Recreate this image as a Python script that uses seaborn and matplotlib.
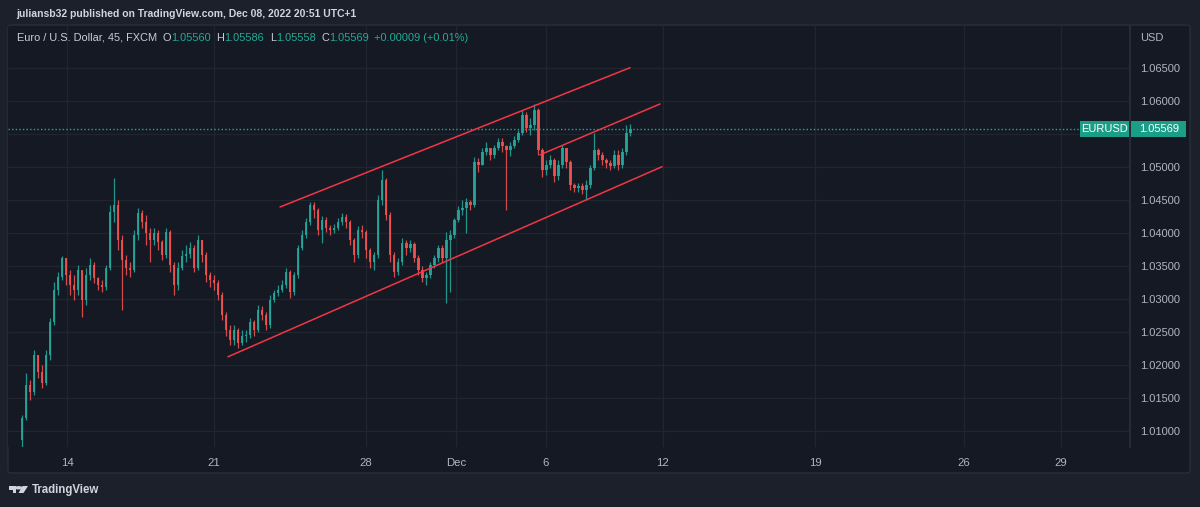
import numpy as np
import matplotlib
matplotlib.use("Agg")
import matplotlib.pyplot as plt
import seaborn as sns
from matplotlib.patches import Rectangle, Polygon, Circle, FancyBboxPatch
from matplotlib.transforms import blended_transform_factory

# ---------------- data (EUR/USD, FXCM) ----------------
first_open = 1.0086
closes = [
    1.0119, 1.0169, 1.0159, 1.0215, 1.0189, 1.0172, 1.0215, 1.0265, 1.0313, 1.0333,
    1.0362, 1.0336, 1.0321, 1.0313, 1.0344, 1.0298, 1.0336, 1.0351, 1.0331, 1.0321,
    1.0318, 1.0347, 1.0431, 1.0442, 1.0389, 1.0359, 1.0347, 1.0344, 1.0397, 1.0430,
    1.0416, 1.0400, 1.0389, 1.0400, 1.0386, 1.0366, 1.0401, 1.0351, 1.0321, 1.0347,
    1.0365, 1.0368, 1.0377, 1.0347, 1.0389, 1.0366, 1.0336, 1.0328, 1.0324, 1.0306,
    1.0275, 1.0253, 1.0237, 1.0253, 1.0233, 1.0243, 1.0245, 1.0265, 1.0253, 1.0283,
    1.0275, 1.0260, 1.0298, 1.0309, 1.0313, 1.0321, 1.0340, 1.0310, 1.0336, 1.0377,
    1.0397, 1.0416, 1.0442, 1.0434, 1.0404, 1.0419, 1.0407, 1.0404, 1.0407, 1.0416,
    1.0424, 1.0416, 1.0389, 1.0366, 1.0404, 1.0401, 1.0374, 1.0356, 1.0366, 1.0450,
    1.0480, 1.0427, 1.0366, 1.0340, 1.0356, 1.0384, 1.0377, 1.0383, 1.0362, 1.0344,
    1.0331, 1.0336, 1.0351, 1.0362, 1.0377, 1.0362, 1.0389, 1.0397, 1.0419, 1.0434,
    1.0437, 1.0447, 1.0442, 1.0507, 1.0503, 1.0522, 1.0528, 1.0518, 1.0528, 1.0537,
    1.0531, 1.0525, 1.0531, 1.0540, 1.0551, 1.0578, 1.0559, 1.0563, 1.0586, 1.0525,
    1.0495, 1.0503, 1.0510, 1.0486, 1.0503, 1.0528, 1.0507, 1.0472, 1.0468, 1.0471,
    1.0465, 1.0472, 1.0498, 1.0525, 1.0518, 1.0510, 1.0506, 1.0501, 1.0518, 1.0503,
    1.0522, 1.0551, 1.05569,
]
highs = [
    1.0124, 1.0187, 1.0177, 1.0222, 1.0210, 1.0200, 1.0222, 1.0271, 1.0325, 1.0340,
    1.0365, 1.0359, 1.0344, 1.0336, 1.0351, 1.0344, 1.0347, 1.0362, 1.0356, 1.0333,
    1.0328, 1.0351, 1.0442, 1.0483, 1.0450, 1.0397, 1.0366, 1.0356, 1.0404, 1.0437,
    1.0434, 1.0427, 1.0407, 1.0407, 1.0404, 1.0389, 1.0407, 1.0404, 1.0356, 1.0356,
    1.0374, 1.0381, 1.0386, 1.0381, 1.0397, 1.0389, 1.0371, 1.0340, 1.0336, 1.0328,
    1.0310, 1.0280, 1.0260, 1.0260, 1.0256, 1.0253, 1.0253, 1.0271, 1.0268, 1.0290,
    1.0289, 1.0280, 1.0306, 1.0313, 1.0321, 1.0328, 1.0347, 1.0344, 1.0340, 1.0381,
    1.0404, 1.0422, 1.0447, 1.0447, 1.0437, 1.0425, 1.0424, 1.0412, 1.0413, 1.0422,
    1.0430, 1.0428, 1.0419, 1.0392, 1.0410, 1.0412, 1.0404, 1.0377, 1.0371, 1.0457,
    1.0495, 1.0483, 1.0431, 1.0371, 1.0362, 1.0392, 1.0389, 1.0389, 1.0386, 1.0366,
    1.0350, 1.0340, 1.0356, 1.0366, 1.0381, 1.0381, 1.0401, 1.0404, 1.0422, 1.0440,
    1.0450, 1.0453, 1.0450, 1.0515, 1.0513, 1.0528, 1.0537, 1.0528, 1.0533, 1.0544,
    1.0544, 1.0533, 1.0537, 1.0547, 1.0556, 1.0586, 1.0583, 1.0574, 1.0595, 1.0589,
    1.0528, 1.0510, 1.0518, 1.0513, 1.0510, 1.0533, 1.0525, 1.0510, 1.0475, 1.0475,
    1.0475, 1.0480, 1.0503, 1.0551, 1.0528, 1.0522, 1.0513, 1.0510, 1.0525, 1.0525,
    1.0528, 1.0563, 1.0565,
]
lows = [
    1.0075, 1.0116, 1.0147, 1.0154, 1.0180, 1.0165, 1.0169, 1.0207, 1.0260, 1.0306,
    1.0328, 1.0321, 1.0306, 1.0298, 1.0306, 1.0272, 1.0290, 1.0328, 1.0324, 1.0313,
    1.0310, 1.0313, 1.0344, 1.0416, 1.0374, 1.0283, 1.0336, 1.0333, 1.0340, 1.0389,
    1.0407, 1.0381, 1.0356, 1.0381, 1.0374, 1.0359, 1.0362, 1.0340, 1.0306, 1.0313,
    1.0344, 1.0356, 1.0362, 1.0340, 1.0344, 1.0356, 1.0325, 1.0318, 1.0313, 1.0298,
    1.0268, 1.0243, 1.0230, 1.0230, 1.0225, 1.0230, 1.0234, 1.0240, 1.0243, 1.0250,
    1.0268, 1.0253, 1.0256, 1.0295, 1.0304, 1.0310, 1.0316, 1.0301, 1.0306, 1.0331,
    1.0374, 1.0392, 1.0412, 1.0422, 1.0397, 1.0384, 1.0401, 1.0397, 1.0400, 1.0404,
    1.0412, 1.0407, 1.0381, 1.0356, 1.0362, 1.0392, 1.0362, 1.0347, 1.0344, 1.0362,
    1.0442, 1.0419, 1.0356, 1.0333, 1.0336, 1.0351, 1.0366, 1.0371, 1.0356, 1.0336,
    1.0325, 1.0321, 1.0331, 1.0347, 1.0356, 1.0356, 1.0293, 1.0310, 1.0392, 1.0416,
    1.0427, 1.0400, 1.0434, 1.0439, 1.0492, 1.0503, 1.0518, 1.0510, 1.0513, 1.0525,
    1.0522, 1.0434, 1.0516, 1.0528, 1.0537, 1.0548, 1.0553, 1.0548, 1.0556, 1.0518,
    1.0484, 1.0487, 1.0498, 1.0477, 1.0480, 1.0498, 1.0498, 1.0465, 1.0462, 1.0462,
    1.0459, 1.0450, 1.0468, 1.0495, 1.0510, 1.0503, 1.0498, 1.0495, 1.0498, 1.0495,
    1.0498, 1.0518, 1.0547,
]
# time in trading days counted from Mon Nov 14 00:00
bar_start_day = -1.505
bar_step_day = 0.1338

# hand-drawn channel lines (trading day, price)
upper_x = [7.124, 18.83]
upper_y = [1.0439, 1.0650]
middle_x = [15.82, 19.83]
middle_y = [1.0518, 1.0595]
lower_x = [5.385, 19.90]
lower_y = [1.0212, 1.0500]

time_tick_days = [0, 4.92, 10.0, 13.01, 16.02, 19.93, 25.02, 30.0, 33.24]
time_tick_labels = ["14", "21", "28", "Dec", "6", "12", "19", "26", "29"]
price_ticks = [1.010, 1.015, 1.020, 1.025, 1.030, 1.035, 1.040, 1.045,
               1.050, 1.055, 1.060, 1.065]
price_tick_labels = ["1.01000", "1.01500", "1.02000", "1.02500", "1.03000", "1.03500",
                     "1.04000", "1.04500", "1.05000", "", "1.06000", "1.06500"]
last_price = 1.05569
legend_pieces = [("Euro / U.S. Dollar, 45, FXCM", "txt", 0),
                 ("O", "txt", 4), ("1.05560", "val", 0),
                 ("H", "txt", 4), ("1.05586", "val", 0),
                 ("L", "txt", 4), ("1.05558", "val", 0),
                 ("C", "txt", 4), ("1.05569", "val", 0),
                 ("+0.00009 (+0.01%)", "val", 4)]

# ---------------- style ----------------
BG_OUT = "#1c202b"
BG_PANE = "#151924"
GRID = "#21252f"
BORDER = "#2a2e39"
TXT = "#d1d4dc"
AX_TXT = "#b2b5be"
UP = "#26a69a"
DOWN = "#ef5350"
CHAN = "#f23645"
BOX = "#1a9e88"

sns.set_theme(style="dark", rc={"axes.facecolor": BG_PANE,
                                "figure.facecolor": BG_OUT,
                                "axes.edgecolor": BORDER})
plt.rcParams["font.family"] = ["Liberation Sans", "DejaVu Sans"]

W, H = 1200, 507
fig = plt.figure(figsize=(W / 100, H / 100), dpi=100)


def fx(px):
    return px / W


def fy(py):
    return 1 - py / H


# chart pane (behind the axes)
pane = FancyBboxPatch((fx(8), fy(473)), fx(1190 - 8), (473 - 25) / H,
                      boxstyle="round,pad=0,rounding_size=0.004",
                      transform=fig.transFigure, facecolor=BG_PANE,
                      edgecolor=BORDER, lw=1, zorder=-10)
fig.add_artist(pane)

ax = fig.add_axes([fx(8), fy(447), fx(1130 - 8), (447 - 26) / H])
ax.set_zorder(1)
ax.set_facecolor(BG_PANE)

# candles
c = np.array(closes, dtype=float)
n = len(c)
o = np.r_[first_open, c[:-1]]
hi = np.maximum.reduce([np.array(highs[:n], float), o, c])
lo = np.minimum.reduce([np.array(lows[:n], float), o, c])
x = bar_start_day + bar_step_day * np.arange(n)
up = c >= o
cols = np.where(up, UP, DOWN)
ax.vlines(x, lo, hi, colors=cols, lw=0.9, alpha=0.88, zorder=3)
body = np.maximum(np.abs(c - o), 0.00008)
ax.bar(x, body, bottom=np.minimum(o, c), width=bar_step_day * 0.72,
       color=cols, lw=0, alpha=0.9, zorder=4)

# channel lines
for lx, ly in [(upper_x, upper_y), (middle_x, middle_y), (lower_x, lower_y)]:
    sns.lineplot(x=lx, y=ly, ax=ax, color=CHAN, lw=1.1, zorder=5)

# last price line
ax.axhline(last_price, color=UP, ls=(0, (1, 1.6)), lw=1.0, zorder=2)

ax.set_xlim((8 - 67) / 29.9, (1130 - 67) / 29.9)
ax.set_ylim(1.00753, 1.07132)

ax.set_xticks(time_tick_days)
ax.set_xticklabels(time_tick_labels)
ax.yaxis.tick_right()
ax.set_yticks(price_ticks)
ax.set_yticklabels(price_tick_labels)
ax.tick_params(axis="y", length=0, pad=7, labelcolor=AX_TXT, labelsize=8)
ax.tick_params(axis="x", length=0, pad=8, labelcolor=AX_TXT, labelsize=8.2)
ax.grid(True, color=GRID, lw=0.9)
ax.set_axisbelow(True)
for s in ["top", "left", "bottom"]:
    ax.spines[s].set_visible(False)
ax.spines["right"].set_color(BORDER)
ax.set_xlabel("")
ax.set_ylabel("")

# price labels on the scale
bt = blended_transform_factory(fig.transFigure, ax.transData)
hh = 16 / 6600
ax.add_patch(Rectangle((fx(1080), last_price - hh / 2), fx(49), hh, transform=bt,
                       facecolor=BOX, edgecolor="none", clip_on=False, zorder=6))
ax.add_patch(Rectangle((fx(1131), last_price - hh / 2), fx(55), hh, transform=bt,
                       facecolor=BOX, edgecolor="none", clip_on=False, zorder=6))
ax.text(fx(1104.5), last_price, "EURUSD", transform=bt, ha="center", va="center",
        color="white", fontsize=8, zorder=7, clip_on=False)
ax.text(fx(1159), last_price, "1.05569", transform=bt, ha="center", va="center",
        color="white", fontsize=8, zorder=7, clip_on=False)

# header texts
fig.text(fx(16), fy(14), "juliansb32 published on TradingView.com, Dec 08, 2022 20:51 UTC+1",
         color=TXT, fontsize=7.5, fontweight="bold", va="center", ha="left")
fig.text(fx(1140), fy(38), "USD", color=AX_TXT, fontsize=8, va="center", ha="left")

prev = None
for txt, kind, gap in legend_pieces:
    col = "#c9ccd4" if kind == "txt" else "#22ab94"
    if prev is None:
        prev = ax.text(fx(17), fy(38), txt, color=col, fontsize=7.9,
                       va="center", ha="left", transform=fig.transFigure,
                       clip_on=False)
    else:
        prev = ax.annotate(txt, xy=(1, 0), xycoords=prev, xytext=(gap, 0),
                           textcoords="offset points", ha="left", va="bottom",
                           color=col, fontsize=7.9, annotation_clip=False)

# TradingView footer logo + text
logo_col = "#d1d4dc"
for art in [
    Rectangle((fx(9), fy(489.5)), fx(7), 3.5 / H),
    Rectangle((fx(12.5), fy(493)), fx(3.5), 7 / H),
    Circle((fx(18.6), fy(487.8)), 1.7 / H),
    Polygon([(fx(22.5), fy(486)), (fx(28), fy(486)),
             (fx(23.5), fy(493)), (fx(18.5), fy(493))], closed=True),
]:
    art.set_transform(fig.transFigure)
    art.set_facecolor(logo_col)
    art.set_edgecolor("none")
    fig.add_artist(art)
fig.text(fx(32), fy(489.5), "TradingView", color=logo_col, fontsize=8.3,
         fontweight="bold", va="center", ha="left")

fig.savefig("out.png", dpi=100, facecolor=BG_OUT)
